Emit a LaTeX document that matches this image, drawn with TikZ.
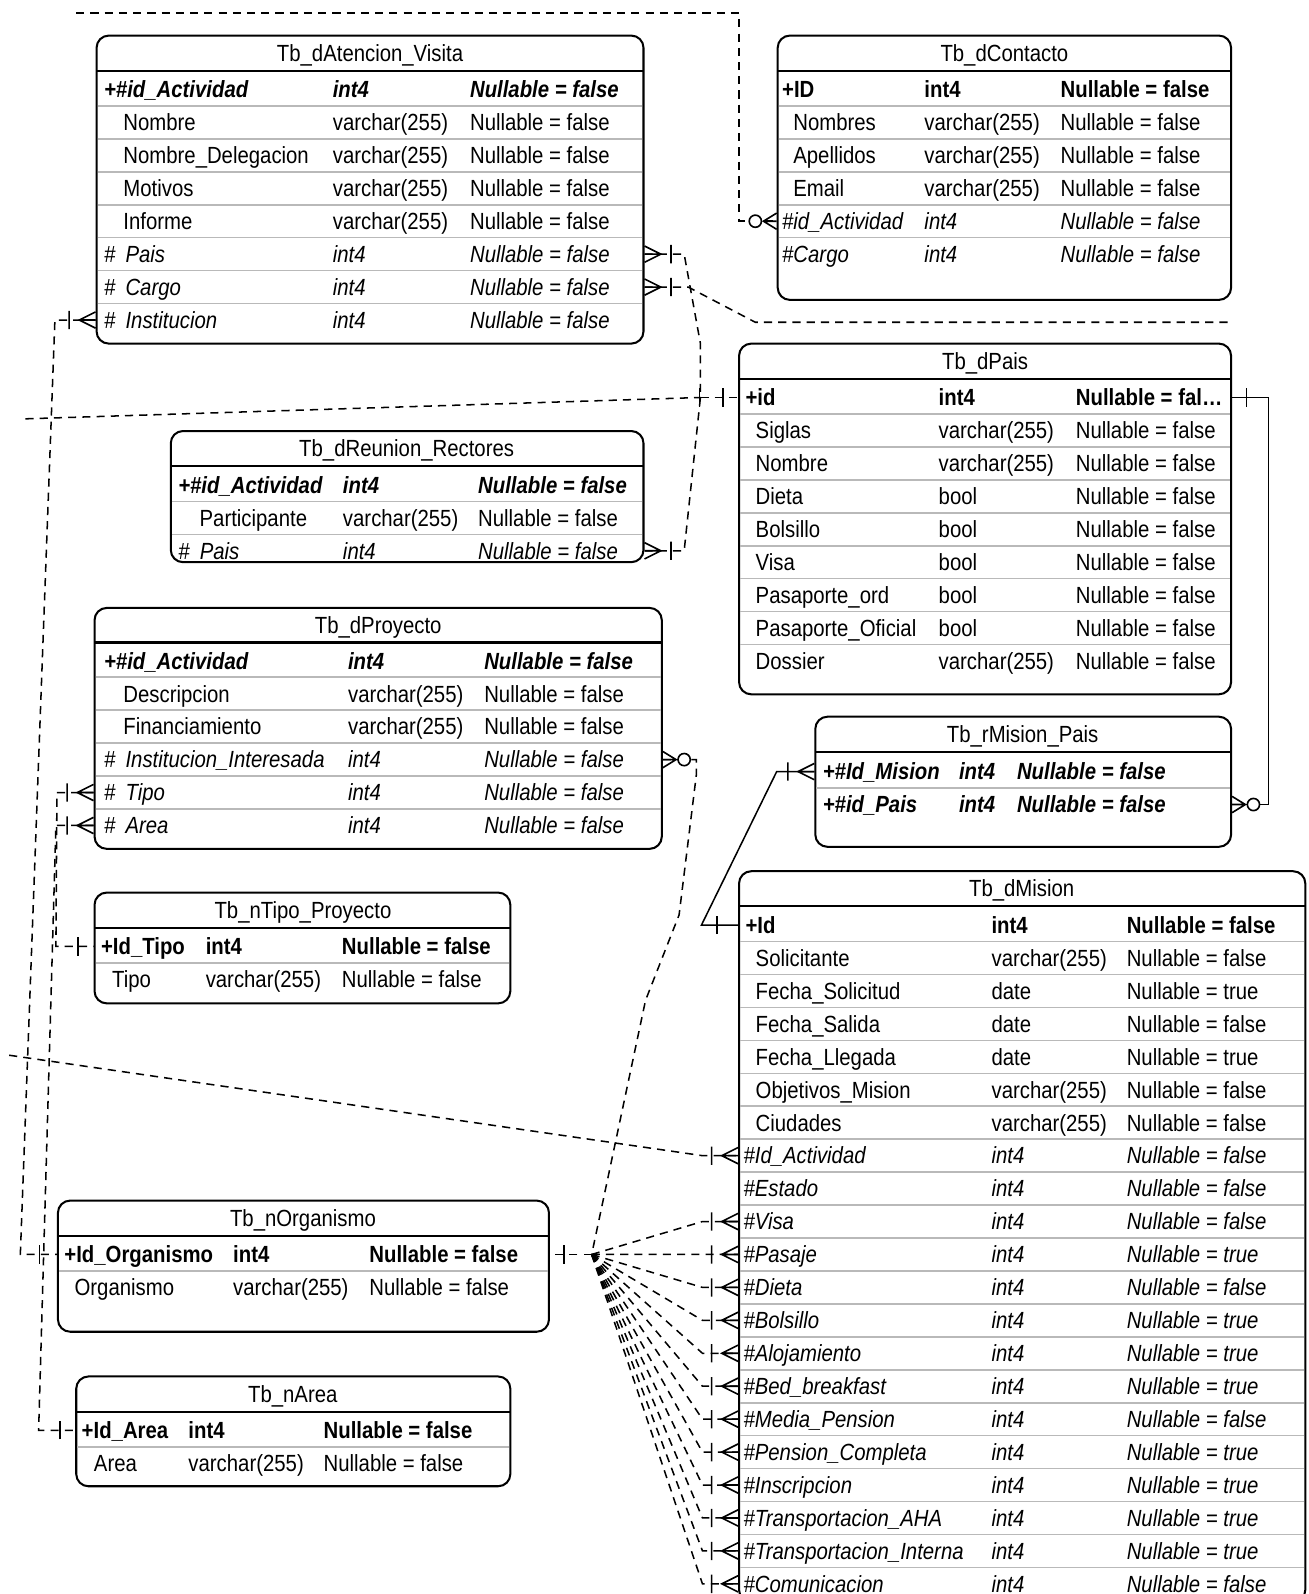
\documentclass[tikz,border=0pt]{standalone}
\usepackage{fontspec}
\setmainfont{Liberation Sans}[FakeStretch=0.87]
\usetikzlibrary{fit,calc}
\newcommand{\tabfont}{\fontsize{11.5}{13}\selectfont}

\begin{document}
\begin{tikzpicture}[
	x=0.5pt, y=-0.5pt,
	tbl/.style={draw, line width=1pt, rounded corners=6pt, inner sep=0pt},
	ttl/.style={inner sep=0pt, text height=8.2pt, text depth=0pt, font=\tabfont},
	hdr/.style={line width=1pt},
	rowsep/.style={gray!55, line width=0.8pt},
	cellbase/.style={anchor=west, inner sep=0pt, text height=8.2pt, text depth=0pt},
	plainrow/.style={cellbase, font=\tabfont},
	pkrow/.style={cellbase, font=\tabfont\bfseries},
	kfrow/.style={cellbase, font=\tabfont\bfseries\itshape},
	fkrow/.style={cellbase, font=\tabfont\itshape},
	rel/.style={line width=0.75pt, dash pattern=on 4pt off 3pt},
	idrel/.style={line width=0.75pt},
	crowline/.style={line width=0.8pt, solid},
	pics/manybar/.style={code={\draw[crowline] (0,-8) -- (16,0) -- (0,8) (0,0) -- (16,0) (26,-9) -- (26,9);}},
	pics/manyzero/.style={code={\draw[crowline] (0,-8) -- (13,0) -- (0,8) (0,0) -- (13,0);
		\draw[crowline, fill=white] (21,0) circle (6);}},
	pics/onebar/.style={code={\draw[crowline] (#1,-9) -- (#1,9);}}
]
\useasboundingbox (0,0) rectangle (1287,1568);

% Tb_dAtencion_Visita
\node[tbl, fit={(95,35) (633,338)}] (atv) {};
\node[ttl] (atv-ttl) at (364,52) {Tb\_dAtencion\_Visita};
\draw[hdr] (95,70) -- (633,70);
\foreach \dx/\rs/\na/\ty/\nu [count=\i] in {
	0/kfrow/{+\#id\_Actividad}/int4/{Nullable = false},
	19/plainrow/Nombre/varchar(255)/{Nullable = false},
	19/plainrow/{Nombre\_Delegacion}/varchar(255)/{Nullable = false},
	19/plainrow/Motivos/varchar(255)/{Nullable = false},
	19/plainrow/Informe/varchar(255)/{Nullable = false},
	0/fkrow/{\#\hspace{5pt}Pais}/int4/{Nullable = false},
	0/fkrow/{\#\hspace{5pt}Cargo}/int4/{Nullable = false},
	0/fkrow/{\#\hspace{5pt}Institucion}/int4/{Nullable = false}}{
	\pgfmathsetmacro{\ry}{88+32.4*(\i-1)}
	\coordinate (atv-\i) at (0,\ry);
	\node[\rs] (atv-\i-n) at (102+\dx,\ry) {\na};
	\node[\rs] (atv-\i-t) at (327,\ry) {\ty};
	\node[\rs] (atv-\i-v) at (462,\ry) {\nu};
	\ifnum\i<8 \draw[rowsep] (96,\ry+16.2) -- (632,\ry+16.2);\fi
}

% Tb_dContacto
\node[tbl, fit={(765,35) (1211,295)}] (con) {};
\node[ttl] (con-ttl) at (988,52) {Tb\_dContacto};
\draw[hdr] (765,70) -- (1211,70);
\foreach \dx/\rs/\na/\ty/\nu [count=\i] in {
	0/pkrow/{+ID}/int4/{Nullable = false},
	11/plainrow/Nombres/varchar(255)/{Nullable = false},
	11/plainrow/Apellidos/varchar(255)/{Nullable = false},
	11/plainrow/Email/varchar(255)/{Nullable = false},
	0/fkrow/{\#id\_Actividad}/int4/{Nullable = false},
	0/fkrow/{\#Cargo}/int4/{Nullable = false}}{
	\pgfmathsetmacro{\ry}{88+32.4*(\i-1)}
	\coordinate (con-\i) at (0,\ry);
	\node[\rs] (con-\i-n) at (769+\dx,\ry) {\na};
	\node[\rs] (con-\i-t) at (909,\ry) {\ty};
	\node[\rs] (con-\i-v) at (1043,\ry) {\nu};
	\ifnum\i<6 \draw[rowsep] (766,\ry+16.2) -- (1210,\ry+16.2);\fi
}

% Tb_dPais
\node[tbl, fit={(727,338) (1211,683)}] (pais) {};
\node[ttl] (pais-ttl) at (969,355) {Tb\_dPais};
\draw[hdr] (727,373) -- (1211,373);
\foreach \dx/\rs/\na/\ty/\nu [count=\i] in {
	0/pkrow/{+id}/int4/{Nullable = fal\ldots},
	10/plainrow/Siglas/varchar(255)/{Nullable = false},
	10/plainrow/Nombre/varchar(255)/{Nullable = false},
	10/plainrow/Dieta/bool/{Nullable = false},
	10/plainrow/Bolsillo/bool/{Nullable = false},
	10/plainrow/Visa/bool/{Nullable = false},
	10/plainrow/{Pasaporte\_ord}/bool/{Nullable = false},
	10/plainrow/{Pasaporte\_Oficial}/bool/{Nullable = false},
	10/plainrow/Dossier/varchar(255)/{Nullable = false}}{
	\pgfmathsetmacro{\ry}{391+32.4*(\i-1)}
	\coordinate (pais-\i) at (0,\ry);
	\node[\rs] (pais-\i-n) at (733+\dx,\ry) {\na};
	\node[\rs] (pais-\i-t) at (923,\ry) {\ty};
	\node[\rs] (pais-\i-v) at (1058,\ry) {\nu};
	\ifnum\i<9 \draw[rowsep] (728,\ry+16.2) -- (1210,\ry+16.2);\fi
}

% Tb_dReunion_Rectores
\node[tbl, fit={(168,424) (633,553)}] (reu) {};
\node[ttl] (reu-ttl) at (400,441) {Tb\_dReunion\_Rectores};
\draw[hdr] (168,458) -- (633,458);
\foreach \dx/\rs/\na/\ty/\nu [count=\i] in {
	0/kfrow/{+\#id\_Actividad}/int4/{Nullable = false},
	21/plainrow/Participante/varchar(255)/{Nullable = false},
	0/fkrow/{\#\hspace{5pt}Pais}/int4/{Nullable = false}}{
	\pgfmathsetmacro{\ry}{477+32.4*(\i-1)}
	\coordinate (reu-\i) at (0,\ry);
	\node[\rs] (reu-\i-n) at (175+\dx,\ry) {\na};
	\node[\rs] (reu-\i-t) at (337,\ry) {\ty};
	\node[\rs] (reu-\i-v) at (470,\ry) {\nu};
	\ifnum\i<3 \draw[rowsep] (169,\ry+16.2) -- (632,\ry+16.2);\fi
}

% Tb_dProyecto
\node[tbl, fit={(93,598) (651,835)}] (pro) {};
\node[ttl] (pro-ttl) at (372,615) {Tb\_dProyecto};
\draw[hdr] (93,632) -- (651,632);
\foreach \dx/\rs/\na/\ty/\nu [count=\i] in {
	0/kfrow/{+\#id\_Actividad}/int4/{Nullable = false},
	19/plainrow/Descripcion/varchar(255)/{Nullable = false},
	19/plainrow/Financiamiento/varchar(255)/{Nullable = false},
	0/fkrow/{\#\hspace{5pt}Institucion\_Interesada}/int4/{Nullable = false},
	0/fkrow/{\#\hspace{5pt}Tipo}/int4/{Nullable = false},
	0/fkrow/{\#\hspace{5pt}Area}/int4/{Nullable = false}}{
	\pgfmathsetmacro{\ry}{650+32.4*(\i-1)}
	\coordinate (pro-\i) at (0,\ry);
	\node[\rs] (pro-\i-n) at (102+\dx,\ry) {\na};
	\node[\rs] (pro-\i-t) at (342,\ry) {\ty};
	\node[\rs] (pro-\i-v) at (476,\ry) {\nu};
	\ifnum\i<6 \draw[rowsep] (94,\ry+16.2) -- (650,\ry+16.2);\fi
}

% Tb_nTipo_Proyecto
\node[tbl, fit={(93,878) (502,987)}] (tip) {};
\node[ttl] (tip-ttl) at (298,895) {Tb\_nTipo\_Proyecto};
\draw[hdr] (93,913) -- (502,913);
\foreach \dx/\rs/\na/\ty/\nu [count=\i] in {
	0/pkrow/{+Id\_Tipo}/int4/{Nullable = false},
	11/plainrow/Tipo/varchar(255)/{Nullable = false}}{
	\pgfmathsetmacro{\ry}{931+32.4*(\i-1)}
	\coordinate (tip-\i) at (0,\ry);
	\node[\rs] (tip-\i-n) at (99+\dx,\ry) {\na};
	\node[\rs] (tip-\i-t) at (202,\ry) {\ty};
	\node[\rs] (tip-\i-v) at (336,\ry) {\nu};
	\ifnum\i<2 \draw[rowsep] (94,\ry+16.2) -- (501,\ry+16.2);\fi
}

% Tb_rMision_Pais
\node[tbl, fit={(802,705) (1211,833)}] (rmp) {};
\node[ttl] (rmp-ttl) at (1006,722) {Tb\_rMision\_Pais};
\draw[hdr] (802,740) -- (1211,740);
\foreach \dx/\rs/\na/\ty/\nu [count=\i] in {
	0/kfrow/{+\#Id\_Mision}/int4/{Nullable = false},
	0/kfrow/{+\#id\_Pais}/int4/{Nullable = false}}{
	\pgfmathsetmacro{\ry}{759+32.4*(\i-1)}
	\coordinate (rmp-\i) at (0,\ry);
	\node[\rs] (rmp-\i-n) at (809+\dx,\ry) {\na};
	\node[\rs] (rmp-\i-t) at (943,\ry) {\ty};
	\node[\rs] (rmp-\i-v) at (1000,\ry) {\nu};
	\ifnum\i<2 \draw[rowsep] (803,\ry+16.2) -- (1210,\ry+16.2);\fi
}

% Tb_dMision (runs past the lower edge)
\node[tbl, fit={(727,857) (1284,1576)}] (mis) {};
\node[ttl] (mis-ttl) at (1005,874) {Tb\_dMision};
\draw[hdr] (727,891) -- (1284,891);
\foreach \dx/\rs/\na/\ty/\nu [count=\i] in {
	0/pkrow/{+Id}/int4/{Nullable = false},
	10/plainrow/Solicitante/varchar(255)/{Nullable = false},
	10/plainrow/{Fecha\_Solicitud}/date/{Nullable = true},
	10/plainrow/{Fecha\_Salida}/date/{Nullable = false},
	10/plainrow/{Fecha\_Llegada}/date/{Nullable = true},
	10/plainrow/{Objetivos\_Mision}/varchar(255)/{Nullable = false},
	10/plainrow/Ciudades/varchar(255)/{Nullable = false},
	-2/fkrow/{\#Id\_Actividad}/int4/{Nullable = false},
	-2/fkrow/{\#Estado}/int4/{Nullable = false},
	-2/fkrow/{\#Visa}/int4/{Nullable = false},
	-2/fkrow/{\#Pasaje}/int4/{Nullable = true},
	-2/fkrow/{\#Dieta}/int4/{Nullable = false},
	-2/fkrow/{\#Bolsillo}/int4/{Nullable = true},
	-2/fkrow/{\#Alojamiento}/int4/{Nullable = true},
	-2/fkrow/{\#Bed\_breakfast}/int4/{Nullable = true},
	-2/fkrow/{\#Media\_Pension}/int4/{Nullable = false},
	-2/fkrow/{\#Pension\_Completa}/int4/{Nullable = true},
	-2/fkrow/{\#Inscripcion}/int4/{Nullable = true},
	-2/fkrow/{\#Transportacion\_AHA}/int4/{Nullable = true},
	-2/fkrow/{\#Transportacion\_Interna}/int4/{Nullable = true},
	-2/fkrow/{\#Comunicacion}/int4/{Nullable = false}}{
	\pgfmathsetmacro{\ry}{910+32.4*(\i-1)}
	\coordinate (mis-\i) at (0,\ry);
	\node[\rs] (mis-\i-n) at (733+\dx,\ry) {\na};
	\node[\rs] (mis-\i-t) at (975,\ry) {\ty};
	\node[\rs] (mis-\i-v) at (1108,\ry) {\nu};
	\ifnum\i<21 \draw[rowsep] (728,\ry+16.2) -- (1283,\ry+16.2);\fi
}

% Tb_nOrganismo
\node[tbl, fit={(57,1181) (540,1310)}] (org) {};
\node[ttl] (org-ttl) at (298,1198) {Tb\_nOrganismo};
\draw[hdr] (57,1216) -- (540,1216);
\foreach \dx/\rs/\na/\ty/\nu [count=\i] in {
	0/pkrow/{+Id\_Organismo}/int4/{Nullable = false},
	10/plainrow/Organismo/varchar(255)/{Nullable = false}}{
	\pgfmathsetmacro{\ry}{1234+32.4*(\i-1)}
	\coordinate (org-\i) at (0,\ry);
	\node[\rs] (org-\i-n) at (63+\dx,\ry) {\na};
	\node[\rs] (org-\i-t) at (229,\ry) {\ty};
	\node[\rs] (org-\i-v) at (363,\ry) {\nu};
	\ifnum\i<2 \draw[rowsep] (58,\ry+16.2) -- (539,\ry+16.2);\fi
}

% Tb_nArea
\node[tbl, fit={(75,1354) (502,1462)}] (are) {};
\node[ttl] (are-ttl) at (288,1371) {Tb\_nArea};
\draw[hdr] (75,1389) -- (502,1389);
\foreach \dx/\rs/\na/\ty/\nu [count=\i] in {
	0/pkrow/{+Id\_Area}/int4/{Nullable = false},
	12/plainrow/Area/varchar(255)/{Nullable = false}}{
	\pgfmathsetmacro{\ry}{1407+32.4*(\i-1)}
	\coordinate (are-\i) at (0,\ry);
	\node[\rs] (are-\i-n) at (80+\dx,\ry) {\na};
	\node[\rs] (are-\i-t) at (185,\ry) {\ty};
	\node[\rs] (are-\i-v) at (318,\ry) {\nu};
	\ifnum\i<2 \draw[rowsep] (76,\ry+16.2) -- (501,\ry+16.2);\fi
}

% Junctions and loose ends (tables outside the view)
\coordinate (jPais) at (689,391);
\coordinate (jOrg) at (582,1234);
\coordinate (actTop) at (75,13);
\coordinate (actBend) at (727,13);
\coordinate (paisFar) at (25,412);
\coordinate (cargoFar) at (1212,317);
\coordinate (misFar) at (9,1038);
\coordinate (paisBend) at (1248,0);

% Foreign keys (dashed)
\draw[rel] (actTop) -- (actBend) |- (con.west |- con-5);
\draw[rel] (atv.east |- atv-6) -- ++(39,0) -- (689,338) -- (jPais);
\draw[rel] (reu.east |- reu-3) -- ++(39,0) -- (jPais);
\draw[rel] (paisFar) -- (jPais);
\draw[rel] (jPais) -- (pais.west |- pais-1);
\draw[rel] (atv.east |- atv-7) -- ++(43,0) -- (743,317) -- (cargoFar);
\draw[rel] (atv.west |- atv-8) -- ++(-40,0) -- (20,1234) -- (org.west |- org-1);
\draw[rel] (pro.west |- pro-5) -- ++(-36,0) -- (55,931) -- (tip.west |- tip-1);
\draw[rel] (pro.west |- pro-6) -- ++(-37,0) -- (38,1407) -- (are.west |- are-1);
\draw[rel] (pro.east |- pro-4) -- ++(33,0) -- (685,762) -- (668,900) -- (635,984) -- (jOrg);
\draw[rel] (jOrg) -- (org.east |- org-1);
\draw[rel] (misFar) -- ($(mis.west |- mis-8)+(-35,0)$) -- (mis.west |- mis-8);
\foreach \r in {10,...,21}
	\draw[rel] (jOrg) -- ($(mis.west |- mis-\r)+(-35,0)$) -- (mis.west |- mis-\r);

% Identifying relations (solid)
\draw[idrel] (mis.west |- mis-1) -- ++(-36,0) -- (764,759) -- (rmp.west |- rmp-1);
\draw[idrel] (pais.east |- pais-1) -| (paisBend |- rmp-2) -- (rmp.east |- rmp-2);

% End marks
\pic[rotate=180] at (con.west |- con-5) {manyzero};
\pic at (atv.east |- atv-6) {manybar};
\pic at (atv.east |- atv-7) {manybar};
\pic at (reu.east |- reu-3) {manybar};
\pic[rotate=180] at (pais.west |- pais-1) {onebar=15};
\pic[rotate=180] at (pais.west |- pais-1) {onebar=38};
\pic[rotate=180] at (atv.west |- atv-8) {manybar};
\pic[rotate=180] at (org.west |- org-1) {onebar=17};
\pic[rotate=180] at (pro.west |- pro-5) {manybar};
\pic[rotate=180] at (tip.west |- tip-1) {onebar=15};
\pic[rotate=180] at (pro.west |- pro-6) {manybar};
\pic[rotate=180] at (are.west |- are-1) {onebar=15};
\pic at (pro.east |- pro-4) {manyzero};
\pic at (org.east |- org-1) {onebar=14};
\foreach \r in {8,10,11,...,21}
	\pic[rotate=180] at (mis.west |- mis-\r) {manybar};
\pic[rotate=180] at (mis.west |- mis-1) {onebar=21};
\pic[rotate=180] at (rmp.west |- rmp-1) {manybar};
\pic at (pais.east |- pais-1) {onebar=14};
\pic at (rmp.east |- rmp-2) {manyzero};
\end{tikzpicture}
\end{document}
